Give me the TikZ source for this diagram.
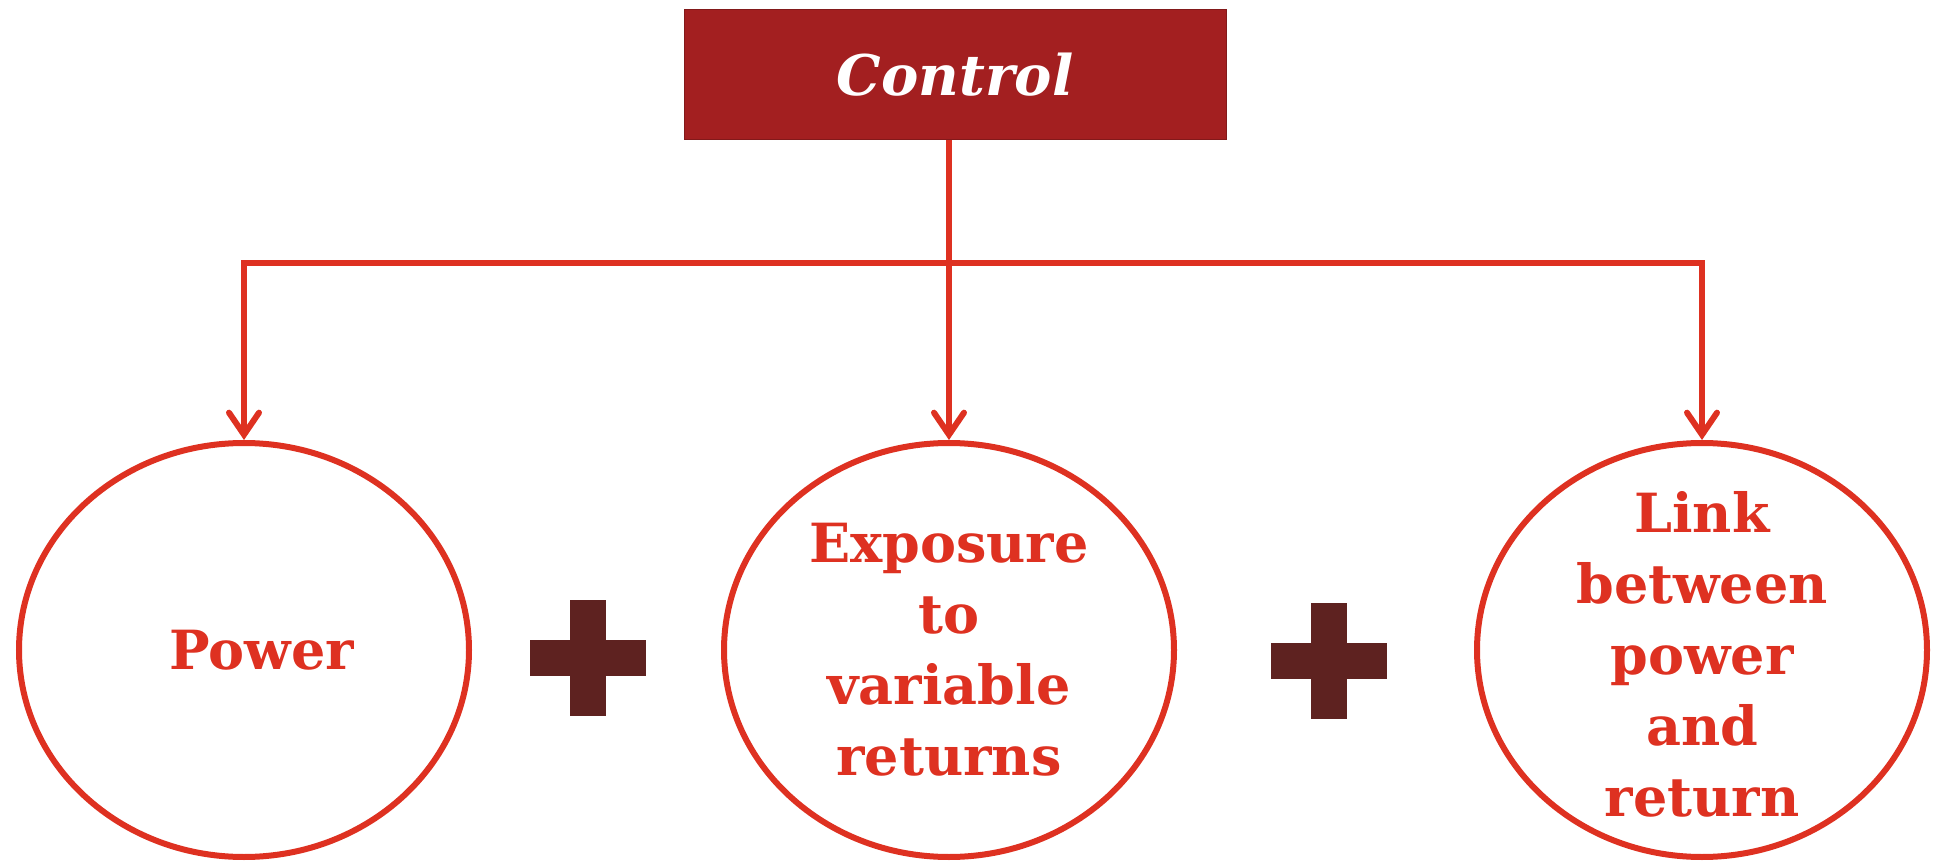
\documentclass[tikz,border=0pt]{standalone}
\usepackage{fontspec}
\setmainfont{DejaVu Serif}
\usetikzlibrary{shapes.geometric, arrows.meta, positioning}

\definecolor{ctrlred}{HTML}{A31F20}
\definecolor{linered}{HTML}{DE3121}
\definecolor{plusbrown}{HTML}{5E2220}

\tikzset{
  ctrlbox/.style={rectangle, fill=ctrlred, draw=ctrlred!80!black, line width=0.5pt,
    minimum width=271pt, minimum height=65pt, text=white,
    font=\fontsize{28}{34}\selectfont\bfseries\itshape},
  bubble/.style={ellipse, draw=linered, line width=3pt, inner sep=0pt,
    minimum width=225pt, minimum height=207pt},
  bubbletext/.style={align=center, text=linered, inner sep=0pt,
    font=\fontsize{27}{35.5}\selectfont\bfseries},
  feed/.style={draw=linered, line width=3pt},
  feedarrow/.style={feed, -{Straight Barb[length=11pt, width=15pt, line cap=round]}},
  plusbar/.style={fill=plusbrown}
}

\begin{document}
\begin{tikzpicture}[x=0.5pt, y=0.5pt]
\useasboundingbox (0,0) rectangle (1940,-861);

\node[ctrlbox] (control) at (955,-75) {Control};

\node[bubble] (power) at (244,-650) {};
\node[bubble] (exposure) at (949,-650) {};
\node[bubble] (link) at (1702,-650) {};

\node[bubbletext] (powertxt) at ([xshift=9pt]power.center) {Power};
\node[bubbletext] (exposuretxt) at (exposure.center) {Exposure\\to\\variable\\returns};
\node[bubbletext] (linktxt) at ([yshift=-2pt]link.center) {Link\\between\\power\\and\\return};

% the bus under the control box
\coordinate (bus) at (exposure.north |- 0,-263);
\draw[feed] (control.south -| bus) -- (bus);
\draw[feedarrow] (bus) -- (exposure.north);
\draw[feedarrow] (bus) -| (power.north);
\draw[feedarrow] (bus) -| (link.north);

% the two plus signs
\foreach \cx/\cy in {588/658, 1329/661} {
  \fill[plusbar] (\cx-58,-\cy-18) rectangle (\cx+58,-\cy+18);
  \fill[plusbar] (\cx-18,-\cy-58) rectangle (\cx+18,-\cy+58);
}
\end{tikzpicture}
\end{document}
